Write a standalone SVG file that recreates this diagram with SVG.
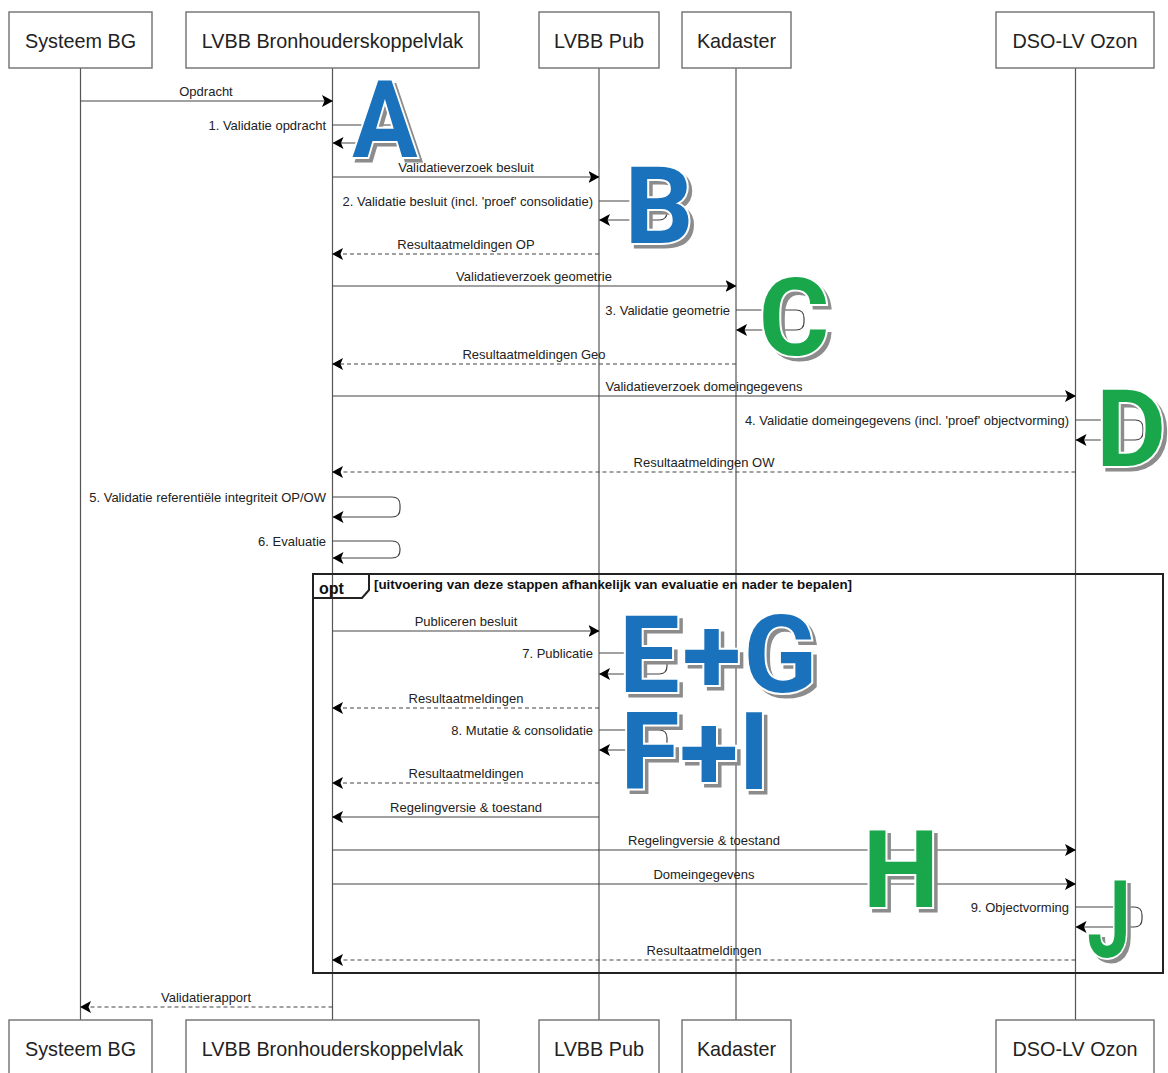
<svg xmlns="http://www.w3.org/2000/svg" width="1168" height="1073" viewBox="0 0 1168 1073">
<defs>
<style>
.box{fill:#fff;stroke:#707070;stroke-width:1.4}
.pt{font-family:"Liberation Sans",Arial,sans-serif;font-size:19.8px;fill:#222;text-anchor:middle}
.life{stroke:#555;stroke-width:1.2;fill:none}
.msg{stroke:#444;stroke-width:1.2;fill:none;marker-end:url(#ah)}
.dash{stroke-dasharray:4,3}
.lbl{font-family:"Liberation Sans",Arial,sans-serif;font-size:13px;fill:#222;text-anchor:middle}
.lbe{font-family:"Liberation Sans",Arial,sans-serif;font-size:13px;fill:#222;text-anchor:end}
.frame{fill:none;stroke:#222;stroke-width:2}
.big{font-family:Roboto,"Open Sans",sans-serif;font-weight:700;font-size:108px;text-anchor:middle}
.sh{fill:#8c8c8c;stroke:#8c8c8c;stroke-width:3}
.blue{fill:#1b72bc;stroke:#fff;stroke-width:4;paint-order:stroke}
.green{fill:#1aa64b;stroke:#fff;stroke-width:4;paint-order:stroke}
</style>
<marker id="ah" viewBox="0 0 11 12" refX="10.5" refY="6" markerWidth="11" markerHeight="12" markerUnits="userSpaceOnUse" orient="auto">
<path d="M0,0 L11,6 L0,12 L2.5,6 z" fill="#000"/>
</marker>
</defs>
<rect width="1168" height="1073" fill="#fff"/>

<g id="lifelines">
<line class="life" x1="80.5" y1="68" x2="80.5" y2="1020"/>
<line class="life" x1="332.5" y1="68" x2="332.5" y2="1020"/>
<line class="life" x1="599" y1="68" x2="599" y2="1020"/>
<line class="life" x1="736" y1="68" x2="736" y2="1020"/>
<line class="life" x1="1075.5" y1="68" x2="1075.5" y2="1020"/>
</g>

<g id="p-systeem-bg">
<rect class="box" x="9" y="12" width="143" height="56"/>
<text class="pt" x="80.5" y="48">Systeem BG</text>
<rect class="box" x="9" y="1020" width="143" height="60"/>
<text class="pt" x="80.5" y="1056">Systeem BG</text>
</g>
<g id="p-lvbb-bkv">
<rect class="box" x="186" y="12" width="293" height="56"/>
<text class="pt" x="332.5" y="48">LVBB Bronhouderskoppelvlak</text>
<rect class="box" x="186" y="1020" width="293" height="60"/>
<text class="pt" x="332.5" y="1056">LVBB Bronhouderskoppelvlak</text>
</g>
<g id="p-lvbb-pub">
<rect class="box" x="539" y="12" width="120" height="56"/>
<text class="pt" x="599" y="48">LVBB Pub</text>
<rect class="box" x="539" y="1020" width="120" height="60"/>
<text class="pt" x="599" y="1056">LVBB Pub</text>
</g>
<g id="p-kadaster">
<rect class="box" x="682" y="12" width="109" height="56"/>
<text class="pt" x="736.5" y="48">Kadaster</text>
<rect class="box" x="682" y="1020" width="109" height="60"/>
<text class="pt" x="736.5" y="1056">Kadaster</text>
</g>
<g id="p-dso-ozon">
<rect class="box" x="996" y="12" width="158" height="56"/>
<text class="pt" x="1075" y="48">DSO-LV Ozon</text>
<rect class="box" x="996" y="1020" width="158" height="60"/>
<text class="pt" x="1075" y="1056">DSO-LV Ozon</text>
</g>

<g id="opt-frame">
<rect class="frame" x="313" y="574" width="850" height="399"/>
<path class="frame" d="M313,598 H362 L369,590 V574"/>
<text x="319" y="594" font-family="Liberation Sans,Arial,sans-serif" font-size="16" font-weight="700" fill="#111">opt</text>
<text x="374" y="589" font-family="Liberation Sans,Arial,sans-serif" font-size="12" font-weight="700" fill="#111" textLength="478" lengthAdjust="spacingAndGlyphs">[uitvoering van deze stappen afhankelijk van evaluatie en nader te bepalen]</text>
</g>

<g id="connectors">
<path class="msg" d="M80.5,101 H332.5"/>
<text class="lbl" x="206" y="96">Opdracht</text>

<path class="msg" d="M332.5,125 H393 Q401,125 401,133 V135 Q401,143 393,143 H333"/>
<text class="lbe" x="326" y="130">1. Validatie opdracht</text>

<path class="msg" d="M332.5,177 H599"/>
<text class="lbl" x="466" y="172">Validatieverzoek besluit</text>

<path class="msg" d="M599,201 H659 Q667,201 667,209 V212 Q667,220 659,220 H599.5"/>
<text class="lbe" x="593" y="206">2. Validatie besluit (incl. 'proef' consolidatie)</text>

<path class="msg dash" d="M599,254 H332.5"/>
<text class="lbl" x="466" y="249">Resultaatmeldingen OP</text>

<path class="msg" d="M332.5,286 H736"/>
<text class="lbl" x="534" y="281">Validatieverzoek geometrie</text>

<path class="msg" d="M736,310 H796 Q804,310 804,318 V322 Q804,330 796,330 H736.5"/>
<text class="lbe" x="730" y="315">3. Validatie geometrie</text>

<path class="msg dash" d="M736,364 H332.5"/>
<text class="lbl" x="534" y="359">Resultaatmeldingen Geo</text>

<path class="msg" d="M332.5,396 H1075.5"/>
<text class="lbl" x="704" y="391">Validatieverzoek domeingegevens</text>

<path class="msg" d="M1075.5,420 H1135 Q1143,420 1143,428 V432 Q1143,440 1135,440 H1076"/>
<text class="lbe" x="1069" y="425">4. Validatie domeingegevens (incl. 'proef' objectvorming)</text>

<path class="msg dash" d="M1075.5,472 H332.5"/>
<text class="lbl" x="704" y="467">Resultaatmeldingen OW</text>

<path class="msg" d="M332.5,497 H392 Q400,497 400,505 V509 Q400,517 392,517 H333"/>
<text class="lbe" x="326" y="502">5. Validatie referentiële integriteit OP/OW</text>

<path class="msg" d="M332.5,541 H392 Q400,541 400,549 V550 Q400,558 392,558 H333"/>
<text class="lbe" x="326" y="546">6. Evaluatie</text>

<path class="msg" d="M332.5,631 H599"/>
<text class="lbl" x="466" y="626">Publiceren besluit</text>

<path class="msg" d="M599,653 H659 Q667,653 667,661 V666 Q667,674 659,674 H599.5"/>
<text class="lbe" x="593" y="658">7. Publicatie</text>

<path class="msg dash" d="M599,708 H332.5"/>
<text class="lbl" x="466" y="703">Resultaatmeldingen</text>

<path class="msg" d="M599,730 H659 Q667,730 667,738 V742 Q667,750 659,750 H599.5"/>
<text class="lbe" x="593" y="735">8. Mutatie &amp; consolidatie</text>

<path class="msg dash" d="M599,783 H332.5"/>
<text class="lbl" x="466" y="778">Resultaatmeldingen</text>

<path class="msg" d="M599,817 H332.5"/>
<text class="lbl" x="466" y="812">Regelingversie &amp; toestand</text>

<path class="msg" d="M332.5,850 H1075.5"/>
<text class="lbl" x="704" y="845">Regelingversie &amp; toestand</text>

<path class="msg" d="M332.5,884 H1075.5"/>
<text class="lbl" x="704" y="879">Domeingegevens</text>

<path class="msg" d="M1075.5,907 H1134 Q1142,907 1142,915 V919 Q1142,927 1134,927 H1076"/>
<text class="lbe" x="1069" y="912">9. Objectvorming</text>

<path class="msg dash" d="M1075.5,960 H332.5"/>
<text class="lbl" x="704" y="955">Resultaatmeldingen</text>

<path class="msg dash" d="M332.5,1007 H80.5"/>
<text class="lbl" x="206" y="1002">Validatierapport</text>
</g>

<g id="big-letters">
<g id="letter-a" transform="translate(385,157) scale(0.9,1)"><text class="big sh" x="4" y="4">A</text><text class="big blue" x="0" y="0">A</text></g>
<g id="letter-b"><text class="big sh" x="663" y="247">B</text><text class="big blue" x="659" y="243">B</text></g>
<g id="letter-c"><text class="big sh" x="798" y="359">C</text><text class="big green" x="794" y="355">C</text></g>
<g id="letter-d"><text class="big sh" x="1135" y="470">D</text><text class="big green" x="1131" y="466">D</text></g>
<g id="letter-eg"><text class="big sh" x="623" y="696" style="text-anchor:start" textLength="198" lengthAdjust="spacing">E+G</text><text class="big blue" x="619" y="692" style="text-anchor:start" textLength="198" lengthAdjust="spacing">E+G</text></g>
<g id="letter-fi"><text class="big sh" x="699" y="793">F+I</text><text class="big blue" x="695" y="789">F+I</text></g>
<g id="letter-h"><text class="big sh" x="905" y="911">H</text><text class="big green" x="901" y="907">H</text></g>
<g id="letter-j" transform="translate(1109,957) scale(0.72,1)"><text class="big sh" x="5" y="4">J</text><text class="big green" x="0" y="0">J</text></g>
</g>
</svg>
